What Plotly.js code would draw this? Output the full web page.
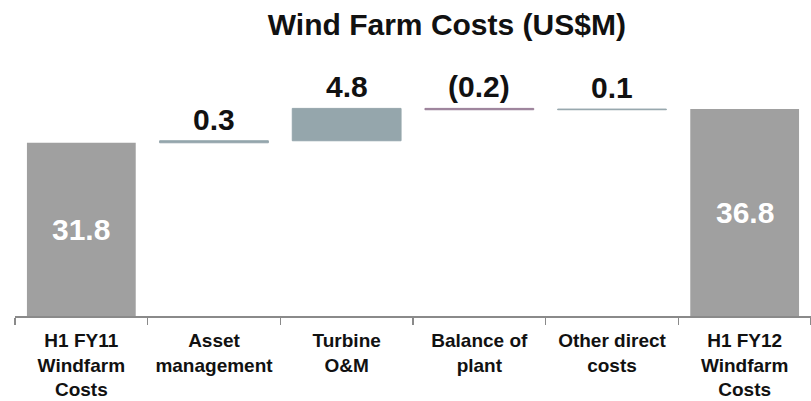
<!DOCTYPE html>
<html>
<head>
<meta charset="utf-8">
<script src="https://cdn.plot.ly/plotly-3.0.1.min.js"></script>
<style>
  html, body { margin: 0; padding: 0; background: #ffffff; }
  #chart { width: 811px; height: 401px; }
</style>
</head>
<body>
<div id="chart"></div>
<script>
// ---- data ----
const categories = [
  'H1 FY11<br>Windfarm<br>Costs',
  'Asset<br>management',
  'Turbine<br>O&M',
  'Balance of<br>plant',
  'Other direct<br>costs',
  'H1 FY12<br>Windfarm<br>Costs'
];
const values = [31.8, 0.3, 4.8, -0.2, 0.1, 36.8];
const measures = ['absolute', 'relative', 'relative', 'relative', 'relative', 'total'];
const valueLabels = ['31.8', '0.3', '4.8', '(0.2)', '0.1', '36.8'];

// ---- layout constants ----
const yRange = [6.1, 44.08];
const FONT = 'Liberation Sans, Arial, Helvetica, sans-serif';

// cumulative tops for label placement
const annotations = [];
let running = 0;
for (let i = 0; i < values.length; i++) {
  if (measures[i] === 'absolute' || measures[i] === 'total') {
    if (measures[i] === 'absolute') running = values[i];
    annotations.push({
      x: categories[i], y: (yRange[0] + running) / 2, xref: 'x', yref: 'y',
      text: valueLabels[i], showarrow: false, yanchor: 'middle',
      font: {family: FONT, size: 30, color: '#ffffff', weight: 'bold'}
    });
  } else {
    const before = running;
    running = running + values[i];
    const top = Math.max(before, running);
    annotations.push({
      x: categories[i], y: top, xref: 'x', yref: 'y',
      text: valueLabels[i], showarrow: false, yanchor: 'bottom', yshift: 3,
      font: {family: FONT, size: 30, color: '#111111', weight: 'bold'}
    });
  }
}

const trace = {
  type: 'waterfall',
  x: categories,
  y: values,
  measure: measures,
  connector: {visible: false},
  increasing: {marker: {color: '#95a6ac', line: {color: '#95a6ac', width: 1}}},
  decreasing: {marker: {color: '#9a7f98', line: {color: '#9a7f98', width: 1}}},
  totals: {marker: {color: '#a0a0a0', line: {color: '#a0a0a0', width: 0}}},
  textinfo: 'none',
  hoverinfo: 'skip',
  cliponaxis: true
};

const layout = {
  width: 811,
  height: 401,
  margin: {l: 15, r: 0, t: 60, b: 85},
  paper_bgcolor: '#ffffff',
  plot_bgcolor: '#ffffff',
  showlegend: false,
  waterfallgap: 0.18,
  title: {
    text: 'Wind Farm Costs (US$M)',
    font: {family: FONT, size: 30, color: '#111111', weight: 'bold'},
    xref: 'container', x: 0.551, xanchor: 'center',
    yref: 'container', y: 0.94, yanchor: 'middle'
  },
  xaxis: {
    type: 'category',
    range: [-0.5, 5.5],
    showline: true,
    linecolor: '#8a8a8a',
    linewidth: 2,
    ticks: 'outside',
    tickson: 'boundaries',
    ticklen: 7,
    tickwidth: 1.5,
    tickcolor: '#8a8a8a',
    tickangle: 0,
    ticklabelstandoff: 6,
    automargin: false,
    tickfont: {family: FONT, size: 19, color: '#111111', weight: 'bold'},
    showgrid: false,
    zeroline: false,
    fixedrange: true
  },
  yaxis: {
    range: yRange,
    showgrid: false,
    zeroline: false,
    showline: false,
    showticklabels: false,
    ticks: '',
    fixedrange: true
  },
  annotations: annotations
};

Plotly.newPlot('chart', [trace], layout, {displayModeBar: false, staticPlot: true});
</script>
</body>
</html>
